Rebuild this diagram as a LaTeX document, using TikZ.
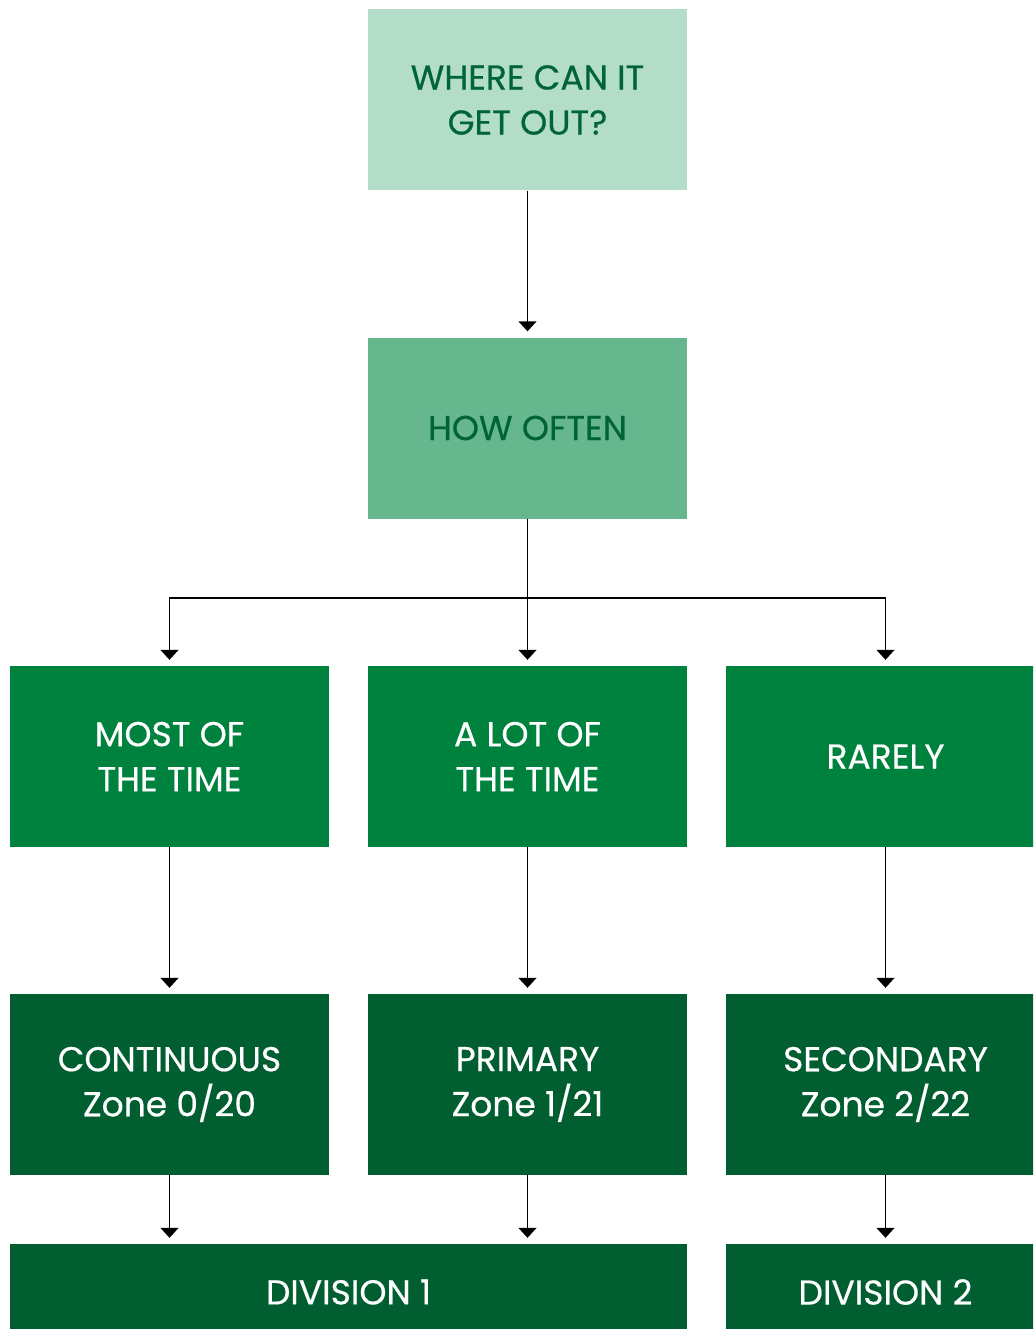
\documentclass[tikz,border=0pt]{standalone}
\usepackage{fontspec}
\setmainfont{Poppins}[FakeBold=0.5]
\usetikzlibrary{arrows.meta}
\definecolor{mint}{HTML}{B3DCC9}
\definecolor{sage}{HTML}{66B68E}
\definecolor{midgreen}{HTML}{00823F}
\definecolor{darkgreen}{HTML}{005E30}
\definecolor{txtgreen}{HTML}{00643A}
\tikzset{
  box/.style={minimum width=319pt,minimum height=181pt,inner sep=0pt,align=center,
    font=\fontsize{34.5}{45}\selectfont},
  arr/.style={-{Triangle[width=18pt,length=10pt]},line width=1.5pt,shorten >=6pt}
}

\begin{document}
\begin{tikzpicture}[x=1pt,y=-1pt]
\clip (0,0) rectangle (1033,1329);
\useasboundingbox (0,0) rectangle (1033,1329);
% question boxes
\node[box,fill=mint,text=txtgreen] (where) at (527.5,100) {WHERE CAN IT\\GET OUT?};
\node[box,fill=sage,text=txtgreen] (often) at (527.5,428) {HOW OFTEN};
% answers
\node[box,fill=midgreen,text=white] (most) at (169.5,756.5) {MOST OF\\THE TIME};
\node[box,fill=midgreen,text=white] (lot) at (527.5,756.5) {A LOT OF\\THE TIME};
\node[box,fill=midgreen,text=white] (rare) at (885.5,756.5) {RARELY};
% zones
\node[box,fill=darkgreen,text=white] (cont) at (169.5,1084.5) {CONTINUOUS\\Zone 0/20};
\node[box,fill=darkgreen,text=white] (prim) at (527.5,1084.5) {PRIMARY\\Zone 1/21};
\node[box,fill=darkgreen,text=white] (sec) at (885.5,1084.5) {SECONDARY\\Zone 2/22};
% divisions
\node[box,fill=darkgreen,text=white,minimum width=677pt,minimum height=96pt] (div1) at (348.5,1292) {DIVISION 1};
\node[box,fill=darkgreen,text=white,minimum height=96pt] (div2) at (885.5,1292) {DIVISION 2};

\coordinate (split) at (527.5,598);
\draw[arr] (where) -- (often);
\draw[line width=1.5pt] (often) -- (split);
\draw[arr] (split) -| (most);
\draw[arr] (split) -- (lot);
\draw[arr] (split) -| (rare);
\draw[arr] (most) -- (cont);
\draw[arr] (lot) -- (prim);
\draw[arr] (rare) -- (sec);
\draw[arr] (cont) -- (cont |- div1.north);
\draw[arr] (prim) -- (prim |- div1.north);
\draw[arr] (sec) -- (div2);
\end{tikzpicture}
\end{document}
